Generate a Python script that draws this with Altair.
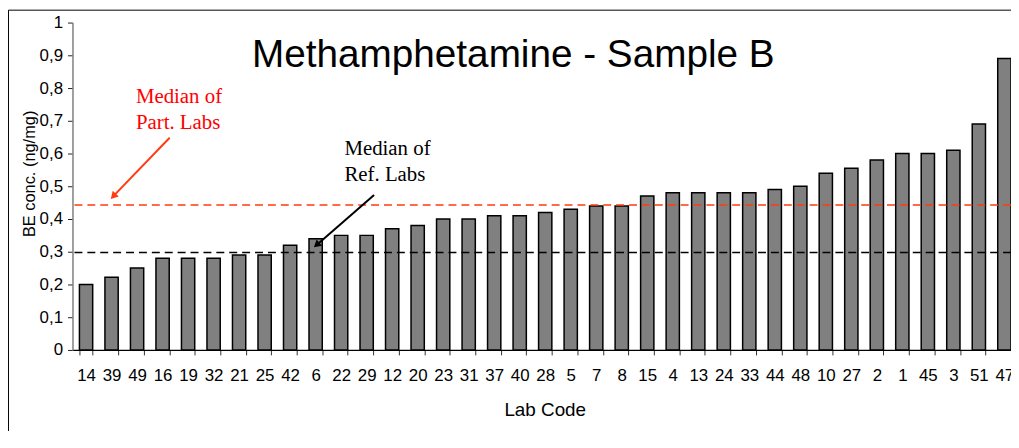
import altair as alt
import pandas as pd

# ---- data ----
LABS = ["14", "39", "49", "16", "19", "32", "21", "25", "42", "6", "22", "29", "12",
        "20", "23", "31", "37", "40", "28", "5", "7", "8", "15", "4", "13", "24",
        "33", "44", "48", "10", "27", "2", "1", "45", "3", "51", "47"]
VALUES = [0.20, 0.222, 0.25, 0.28, 0.28, 0.28, 0.29, 0.29, 0.32, 0.34, 0.35, 0.35, 0.37,
          0.38, 0.40, 0.40, 0.41, 0.41, 0.42, 0.43, 0.44, 0.44, 0.47, 0.48, 0.48, 0.48,
          0.48, 0.49, 0.50, 0.54, 0.555, 0.58, 0.60, 0.60, 0.61, 0.69, 0.89]
MEDIAN_NAMES = ["Median of Part. Labs", "Median of Ref. Labs"]
MEDIAN_VALUES = [0.443, 0.298]
MEDIAN_COLORS = ["#ff3b0f", "#000000"]

TITLE = "Methamphetamine - Sample B"
Y_TITLE = "BE conc. (ng/mg)"
X_TITLE = "Lab Code"

# annotation anchors in data units (x: category steps from the left edge, y: value)
ANN_LINES = ["Median of", "Part. Labs", "Median of", "Ref. Labs"]
ANN_X = [2.50, 2.50, 10.72, 10.72]
ANN_Y = [0.753, 0.675, 0.594, 0.515]
ANN_COLORS = ["#ff0000", "#ff0000", "#000000", "#000000"]

ARROW_X = [3.83, 11.89]
ARROW_Y = [0.648, 0.473]
ARROW_X2 = [1.64, 9.66]
ARROW_Y2 = [0.472, 0.323]
ARROW_ANGLE = [224, 229]
ARROW_COLORS = ["#ff3b0f", "#000000"]

N = len(LABS)
FONT = "Liberation Sans"
SERIF = "Liberation Serif"

bars_df = pd.DataFrame({"lab": LABS, "value": VALUES})
med_df = pd.DataFrame({"name": MEDIAN_NAMES, "value": MEDIAN_VALUES, "color": MEDIAN_COLORS})
ann_df = pd.DataFrame({"text": ANN_LINES, "ax": ANN_X, "ay": ANN_Y, "color": ANN_COLORS})
arr_df = pd.DataFrame({"ax": ARROW_X, "ay": ARROW_Y, "ax2": ARROW_X2, "ay2": ARROW_Y2,
                       "angle": ARROW_ANGLE, "color": ARROW_COLORS})
title_df = pd.DataFrame({"text": [TITLE], "ax": [17.38], "ay": [0.864]})

yscale = alt.Scale(domain=[0, 1], nice=False, zero=True)
ascale = alt.Scale(domain=[0, N], nice=False, zero=False)

bars = alt.Chart(bars_df).mark_bar(
    fill="#808080", stroke="#000000", strokeWidth=1.5
).encode(
    x=alt.X("lab:N", sort=None,
            scale=alt.Scale(paddingInner=0.48, paddingOuter=0.136, align=1),
            axis=alt.Axis(title=X_TITLE, labelAngle=0, labelFont=FONT, labelFontSize=17,
                          labelColor="#000000", labelPadding=13, tickBand="extent",
                          tickSize=5, tickColor="#333333", domainColor="#000000",
                          domainWidth=1.2, titleFont=FONT, titleFontSize=19,
                          titleFontWeight="normal", titleColor="#000000",
                          titleX=476, titleY=66, titleBaseline="alphabetic",
                          titleAlign="center", grid=False)),
    y=alt.Y("value:Q", scale=yscale,
            axis=alt.Axis(title=Y_TITLE, values=[i / 10 for i in range(11)],
                          labelExpr="replace(format(datum.value, '.1~f'), '.', ',')",
                          labelFont=FONT, labelFontSize=17, labelColor="#000000",
                          labelPadding=5, tickSize=5, tickColor="#222222",
                          domainColor="#808080", domainWidth=1.5, grid=False,
                          titleFont=FONT, titleFontSize=16.5, titleFontWeight="normal",
                          titleColor="#000000", titleAngle=270, titleX=-35,
                          titleY=152, titleAlign="center", titleBaseline="bottom")),
)

medians = alt.Chart(med_df).mark_rule(strokeDash=[8, 5], strokeWidth=1.5).encode(
    y=alt.Y("value:Q", scale=yscale, axis=None),
    color=alt.Color("color:N", scale=None),
)

arrows = alt.Chart(arr_df).mark_rule(strokeWidth=2).encode(
    x=alt.X("ax:Q", scale=ascale, axis=None),
    x2="ax2:Q",
    y=alt.Y("ay:Q", scale=yscale, axis=None),
    y2="ay2:Q",
    color=alt.Color("color:N", scale=None),
)

heads = alt.Chart(arr_df).mark_point(shape="triangle", filled=True, size=70, opacity=1).encode(
    x=alt.X("ax2:Q", scale=ascale, axis=None),
    y=alt.Y("ay2:Q", scale=yscale, axis=None),
    angle=alt.Angle("angle:Q", scale=None),
    color=alt.Color("color:N", scale=None),
)

labels = alt.Chart(ann_df).mark_text(
    font=SERIF, fontSize=21, align="left", baseline="alphabetic"
).encode(
    x=alt.X("ax:Q", scale=ascale, axis=None),
    y=alt.Y("ay:Q", scale=yscale, axis=None),
    text="text:N",
    color=alt.Color("color:N", scale=None),
)

title = alt.Chart(title_df).mark_text(
    font=FONT, fontSize=39, align="center", baseline="alphabetic", color="#000000"
).encode(
    x=alt.X("ax:Q", scale=ascale, axis=None),
    y=alt.Y("ay:Q", scale=yscale, axis=None),
    text="text:N",
)

frame = alt.Chart(title_df).mark_rect(fill=None, stroke="#000000", strokeWidth=1).encode(
    x=alt.value(-64.5), x2=alt.value(1000), y=alt.value(-12.5), y2=alt.value(500)
)

chart = alt.layer(frame, bars, medians, arrows, heads, labels, title).resolve_scale(
    x="independent"
).resolve_axis(
    y="independent"
).properties(
    width=946, height=330,
    background="#ffffff",
    autosize=alt.AutoSizeParams(type="none"),
    padding={"left": 65, "top": 13, "right": 0, "bottom": 80},
).configure_view(stroke=None)

chart.save("out.html", embed_options={"renderer": "svg", "actions": False})
